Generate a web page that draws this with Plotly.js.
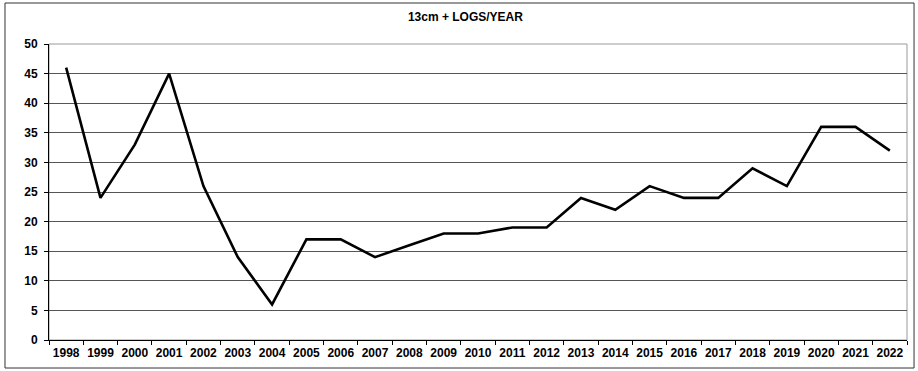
<!DOCTYPE html>
<html>
<head>
<meta charset="utf-8">
<script src="https://cdn.plot.ly/plotly-3.0.1.min.js"></script>
<style>html,body{margin:0;padding:0;background:#fff;}#chart{width:918px;height:371px;}</style>
</head>
<body>
<div id="chart"></div>
<script>
const years = ["1998","1999","2000","2001","2002","2003","2004","2005","2006","2007","2008","2009","2010","2011","2012","2013","2014","2015","2016","2017","2018","2019","2020","2021","2022"];
const logs = [46,24,33,45,26,14,6,17,17,14,16,18,18,19,19,24,22,26,24,24,29,26,36,36,32];
const yTicks = [0,5,10,15,20,25,30,35,40,45,50];

const trace = {
  x: years, y: logs, type: 'scatter', mode: 'lines',
  line: {color: '#000000', width: 2.6},
  hoverinfo: 'x+y'
};
const layout = {
  width: 918, height: 371,
  margin: {l: 49, r: 11, t: 44, b: 31},
  paper_bgcolor: '#ffffff', plot_bgcolor: '#ffffff',
  showlegend: false,
  title: {text: '13cm + LOGS/YEAR', x: 0.507, xanchor: 'center', y: 0.955, yanchor: 'middle',
          font: {family: 'Liberation Sans, Arial, sans-serif', size: 12, color: '#000', weight: 'bold'}},
  xaxis: {
    type: 'category', range: [-0.5, 24.5],
    tickson: 'boundaries', ticks: 'outside', ticklen: 4, tickcolor: '#000', tickwidth: 1,
    tickangle: 0, ticklabelstandoff: 2,
    showgrid: false, showline: true, linecolor: '#000', linewidth: 1, mirror: false,
    tickfont: {family: 'Liberation Sans, Arial, sans-serif', size: 12, color: '#000', weight: 'bold'},
    fixedrange: true
  },
  yaxis: {
    range: [0, 50], tickvals: yTicks, ticks: 'outside', ticklen: 4, tickcolor: '#000',
    showgrid: true, gridcolor: '#555', gridwidth: 1,
    showline: true, linecolor: '#000', linewidth: 1, zeroline: false,
    tickfont: {family: 'Liberation Sans, Arial, sans-serif', size: 12, color: '#000', weight: 'bold'},
    ticklabelstandoff: 4,
    fixedrange: true
  },
  shapes: [
    {type: 'rect', xref: 'paper', yref: 'paper', x0: 0, x1: 1, y0: 0, y1: 1,
     line: {color: '#999', width: 1}, fillcolor: 'rgba(0,0,0,0)', layer: 'below'},
    {type: 'rect', xref: 'paper', yref: 'paper', x0: -0.0513, x1: 1.0082, y0: -0.0946, y1: 1.1385,
     line: {color: '#333', width: 1}, fillcolor: 'rgba(0,0,0,0)'}
  ]
};
Plotly.newPlot('chart', [trace], layout, {displayModeBar: false, staticPlot: true});
</script>
</body>
</html>
